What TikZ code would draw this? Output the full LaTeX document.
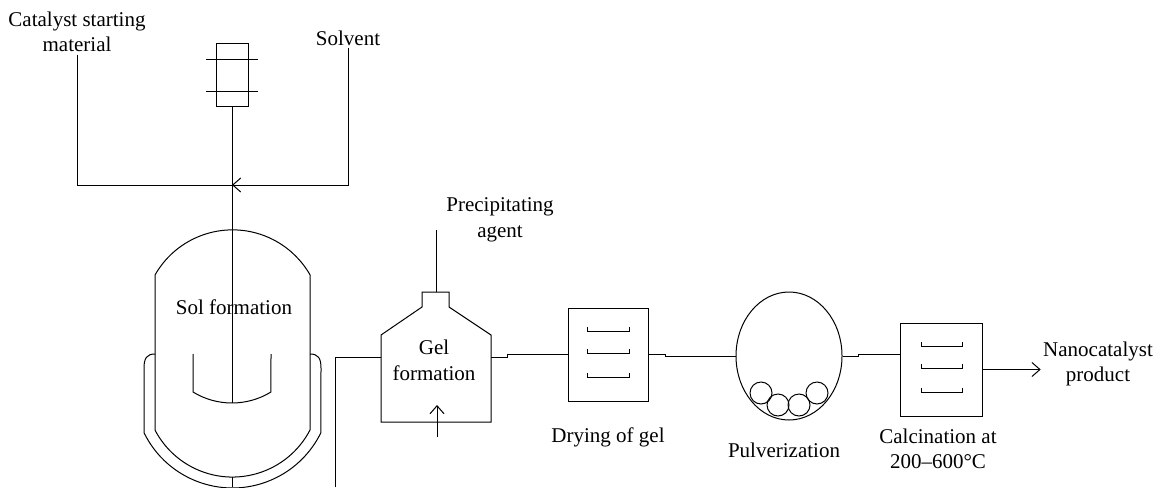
\documentclass[tikz,border=0pt]{standalone}
\usepackage{fontspec}
\setmainfont{Liberation Serif}
\usetikzlibrary{arrows.meta,shapes.geometric}
\begin{document}
\begin{tikzpicture}[x=0.5pt,y=-0.5pt,line width=0.5pt,
    font=\fontsize{10.5}{12.8}\selectfont,
    lbl/.style={align=center,inner sep=1pt},
    flow/.style={-{Straight Barb[length=4pt,width=7pt]}},
    unit/.style={draw,inner sep=0pt}]
        \clip (0,0) rectangle (1154,487);

        % Zulauf
        \node[lbl] (cat) at (77,32) {Catalyst starting\\material};
        \node[lbl] (solv) at (348,38) {Solvent};
        \node[unit,minimum width=16pt,minimum height=31.5pt] (filt) at (232,74.5) {};
        \draw (206,59) -- (258,59);
        \draw (206,91) -- (258,91);
        \coordinate (mix) at (232,185);
        \coordinate (padB) at (232,403);
        \draw (cat.south) |- (mix);
        \draw[flow] (solv.south) |- (mix);
        \draw (filt.south) -- (padB);

        % Sol-Reaktor
        \draw (155,430) -- (155,275) arc[start angle=-150.4,end angle=-29.6,radius=89.2]
            -- (310,430) arc[start angle=27.5,end angle=152.5,radius=87.4];
        \draw (232,477) -- (232,487);
        \draw (193,354) -- (193,392) arc[start angle=121.5,end angle=58.5,radius=74.6] -- (271,354);
        \draw (155,354) .. controls (147,354) and (144,358) .. (144,368) -- (144,432.7)
            arc[start angle=154,end angle=26,radius=98.4] -- (321,368)
            .. controls (321,358) and (318,354) .. (310,354);
        \node[lbl] (sol) at (234,307.5) {Sol formation};

        % Gel
        \draw (381,422) -- (381,335) -- (422,307) -- (422,292) -- (449,292) -- (449,307)
            -- (491,335) -- (491,422) -- cycle;
        \coordinate (gelL) at (381,357);
        \coordinate (gelR) at (491,357);
        \coordinate (gelTop) at (436,292);
        \coordinate (precIn) at (436,230);
        \coordinate (jout) at (335,487);
        \node[lbl] (gel) at (434,360.5) {Gel\\formation};
        \node[lbl] (prec) at (500,220) {Precipitating\\agent};
        \draw (gelTop) -- (precIn);
        \draw (jout) |- (gelL);
        \draw[flow] (437,437) -- (437,405);

        % Trocknung
        \node[unit,minimum width=40pt,minimum height=46.5pt] (dry) at (608,354.5) {};
        \foreach \ty in {331,353,377}
            \draw (587,\ty-4) -- (587,\ty) -- (629,\ty) -- (629,\ty-4);
        \node[lbl] (dryl) at (608,437) {Drying of gel};
        \draw (gelR) -- ++(16,0) |- (dry.west);

        % Mahlen
        \node[draw,ellipse,inner sep=0pt,minimum width=53pt,minimum height=64pt] (pulv) at (789,356) {};
        \foreach \bx/\by in {761/393,778/405,799/405,817/393}
            \draw (\bx,\by) circle[radius=11];
        \node[lbl] (pulvl) at (784,450) {Pulverization};
        \draw (dry.east) -- ++(17,0) |- (pulv.west);

        % Kalzinierung
        \node[unit,minimum width=41pt,minimum height=46.5pt] (calc) at (941,369.5) {};
        \foreach \ty in {346,368,392}
            \draw (921,\ty-4) -- (921,\ty) -- (962,\ty) -- (962,\ty-4);
        \node[lbl] (calcl) at (938,449) {Calcination at\\200--600°C};
        \draw (pulv.east) -- ++(16,0) |- (calc.160);

        % Produkt
        \node[lbl] (prod) at (1098,364) {Nanocatalyst\\product};
        \draw[flow] (calc.east) -- (calc.east -| prod.west);
    \end{tikzpicture}
\end{document}
